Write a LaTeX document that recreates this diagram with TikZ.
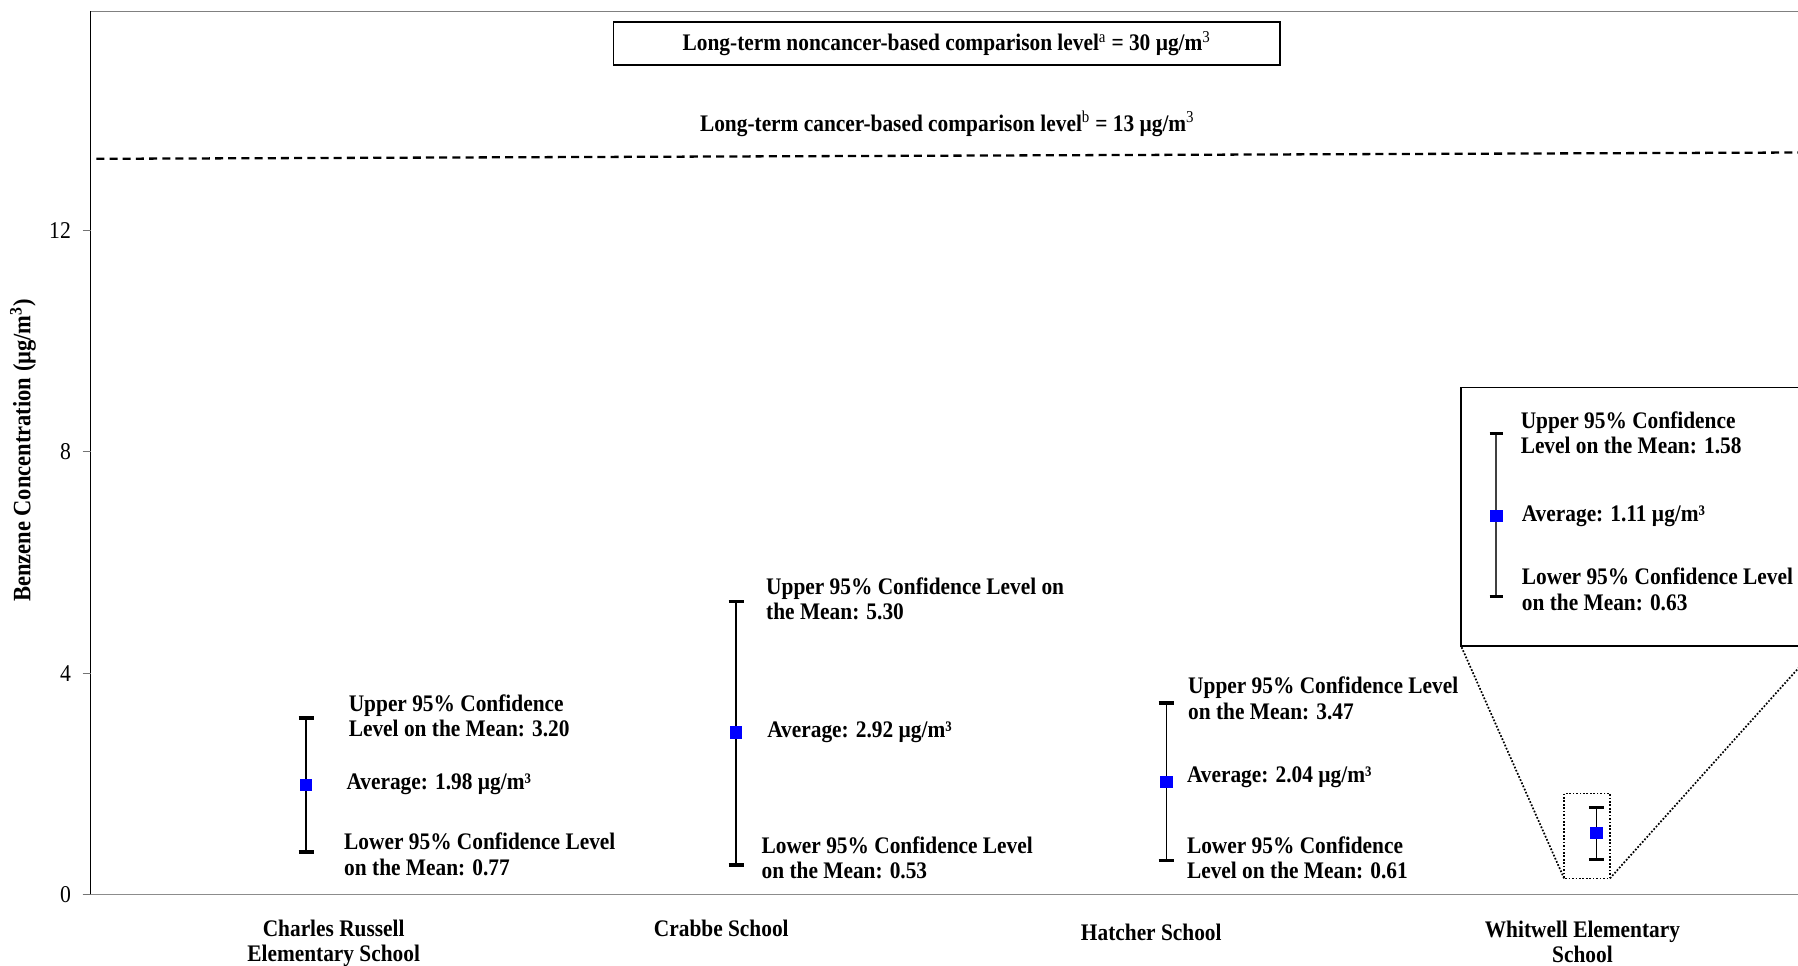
\documentclass[tikz,border=0pt]{standalone}
\usepackage{fontspec}
\setmainfont{Liberation Serif}[FakeStretch=0.9]
\newcommand\lbfont{\fontsize{20.7}{22}\selectfont\bfseries}
\newcommand\tkfont{\fontsize{21}{22}\selectfont}
\tikzset{
  lbl/.style={font=\lbfont, anchor=west, align=left, inner sep=0pt},
  cat/.style={font=\lbfont, align=center, inner sep=0pt},
  avg/.style={fill=blue, minimum size=11pt, inner sep=0pt, draw=none},
  barline/.style={line width=1.2pt},
  ebcap/.style={line width=3pt},
  axisgray/.style={draw=black!45, line width=1.4pt},
  tick/.style={draw=black!55, line width=1pt},
  ticklbl/.style={font=\tkfont, anchor=east, inner sep=0pt},
  dashline/.style={line width=2pt, dash pattern=on 7pt off 4.5pt},
  dotline/.style={line width=1.5pt, dash pattern=on 1.5pt off 1.5pt},
}
\newcommand\ebar[5]{% name, x, yu, ya, yl
  \coordinate (#1-u) at (#2,#3);
  \coordinate (#1-l) at (#2,#5);
  \draw[barline] (#1-u) -- (#1-l);
  \draw[ebcap] ([xshift=-6.5pt]#1-u) -- ([xshift=6.5pt]#1-u);
  \draw[ebcap] ([xshift=-6.5pt]#1-l) -- ([xshift=6.5pt]#1-l);
  \node[avg] (#1-a) at (#2,#4) {};
}
\begin{document}
\begin{tikzpicture}[x=1pt,y=-1pt]
\useasboundingbox (0,0) rectangle (1568,842.4);
\clip (0,0) rectangle (1568,842.4);
% frame and axes
\coordinate (tl) at (79,10);
\coordinate (tr) at (1570,10);
\coordinate (bl) at (72,780);
\coordinate (br) at (1570,780);
\coordinate (ax0) at (79,780);
\draw[draw=black!50, line width=1.2pt] (tl) -- (tr);
\draw[axisgray] (bl) -- (br);
\draw[line width=1.3pt] (tl) -- (ax0);
\foreach \yy/\lab in {201/12,394/8,587/4,780/0}{
  \draw[tick] (72,\yy) -- (79,\yy);
  \node[ticklbl] at (62,\yy) {\lab};
}
\node[font=\fontsize{21.8}{22}\selectfont\bfseries, rotate=90, inner sep=0pt] (ylab) at (20,393) {Benzene Concentration (µg/m\textsuperscript{3})};
% comparison levels
\node[draw, line width=1.5pt, minimum width=581pt, minimum height=37pt, inner sep=0pt, font=\lbfont] (nc) at (825.5,38) {Long-term noncancer-based comparison level\textsuperscript{\mdseries a} = 30 µg/m\textsuperscript{\mdseries 3}};
\node[font=\lbfont, inner sep=0pt] (cl) at (826,108) {Long-term cancer-based comparison level\textsuperscript{\mdseries b} = 13 µg/m\textsuperscript{\mdseries 3}};
\coordinate (dl) at (84,138.5);
\coordinate (dr) at (1570,133);
\draw[dashline] (dl) -- (dr);
% Charles Russell
\ebar{cr}{267}{626}{684.5}{743}
\node[lbl] (cr-ut) at (304,624) {Upper 95\% Confidence\\Level on the Mean: 3.20};
\node[lbl] (cr-at) at (302,684) {Average: 1.98 µg/m³};
\node[lbl] (cr-lt) at (300,745) {Lower 95\% Confidence Level\\on the Mean: 0.77};
\node[cat] (cr-c) at (291,822.5) {Charles Russell\\Elementary School};
% Crabbe
\ebar{cb}{642}{524.5}{639}{754.5}
\node[lbl] (cb-ut) at (668,522) {Upper 95\% Confidence Level on\\the Mean: 5.30};
\node[lbl] (cb-at) at (669,639) {Average: 2.92 µg/m³};
\node[lbl] (cb-lt) at (664,748) {Lower 95\% Confidence Level\\on the Mean: 0.53};
\node[cat] (cb-c) at (629,810) {Crabbe School};
% Hatcher
\ebar{ha}{1017}{613}{682}{750.5}
\node[lbl] (ha-ut) at (1036,609) {Upper 95\% Confidence Level\\on the Mean: 3.47};
\node[lbl] (ha-at) at (1035,678) {Average: 2.04 µg/m³};
\node[lbl] (ha-lt) at (1035,748) {Lower 95\% Confidence\\Level on the Mean: 0.61};
\node[cat] (ha-c) at (1004,813) {Hatcher School};
% Whitwell
\ebar{wh}{1392}{704}{726.5}{749.5}
\coordinate (wb-tl) at (1364,692);
\coordinate (wb-br) at (1404,766);
\coordinate (wb-bl) at (1364,766);
\draw[dotline] (wb-tl) rectangle (wb-br);
\node[cat] (wh-c) at (1380,821.5) {Whitwell Elementary\\School};
% inset
\coordinate (in-tl) at (1274,338);
\coordinate (in-br) at (1586,563);
\coordinate (in-bl) at (1274,563);
\draw[fill=white, line width=1.6pt] (in-tl) rectangle (in-br);
\draw[dotline] (wb-bl) -- (in-bl);
\draw[dotline] (wb-br) -- (in-br);
\coordinate (iw-u) at (1305,378);
\coordinate (iw-l) at (1305,520);
\draw[line width=1.8pt, draw=black!75] (iw-u) -- (iw-l);
\draw[ebcap] ([xshift=-6pt]iw-u) -- ([xshift=6pt]iw-u);
\draw[ebcap] ([xshift=-6pt]iw-l) -- ([xshift=6pt]iw-l);
\node[avg] (iw-a) at (1305,450) {};
\node[lbl] (iw-ut) at (1326,377.5) {Upper 95\% Confidence\\Level on the Mean: 1.58};
\node[lbl] (iw-at) at (1327,450) {Average: 1.11 µg/m³};
\node[lbl] (iw-lt) at (1327,514) {Lower 95\% Confidence Level\\on the Mean: 0.63};
\end{tikzpicture}
\end{document}
